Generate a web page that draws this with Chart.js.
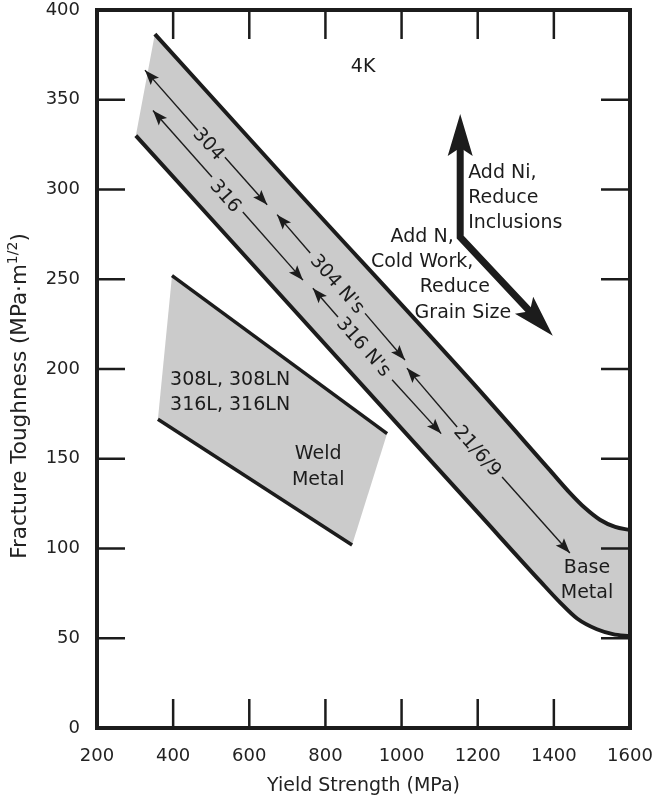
<!DOCTYPE html>
<html>
<head>
<meta charset="utf-8">
<script src="https://cdn.jsdelivr.net/npm/chart.js@4.4.1/dist/chart.umd.min.js"></script>
<style>
  html, body { margin: 0; padding: 0; background: #fff; }
</style>
</head>
<body>
<canvas id="chart" width="656" height="801"></canvas>
<script>
const FONT = '"DejaVu Sans", sans-serif';
const INK = '#1c1c1c';
const SHADE = '#cbcbcb';

const xTicks = [200, 400, 600, 800, 1000, 1200, 1400, 1600];
const yTicks = [0, 50, 100, 150, 200, 250, 300, 350, 400];

// base metal band (MPa, MPa·m^1/2)
const baseUpper = [[352, 386.6], [699, 305.3], [1180, 193.9], [1390, 143.5], [1442, 131], [1482, 122.5], [1521, 116], [1561, 112], [1600, 110.3]];
const baseLower = [[302, 330], [943, 180.2], [1206, 118.7], [1364, 81.8], [1416, 70], [1461, 61], [1513, 55], [1555, 52.3], [1600, 51]];

// weld metal band
const weldUpper = [[397, 252], [962, 164]];
const weldLower = [[360, 172], [870, 102]];

// thin double arrows: tip, gap start, gap end, tip
const arr304 = [[326, 366.5], [465, 333], [536, 318], [647, 291.5]];
const arr316 = [[347, 344], [502, 307], [583, 287.5], [741, 249.5]];
const arr304N = [[673, 286], [760, 264.6], [904, 231], [1009, 205]];
const arr316N = [[767, 245], [833, 229], [975, 194], [1104, 164]];
const arr2169 = [[1014, 200.5], [1146, 167.7], [1264, 139.8], [1442, 97.5]];
const thinArrows = [arr304, arr316, arr304N, arr316N, arr2169];

// bold bent arrow (shaft ends, heads go past them)
const bigArrow = [[1154, 328], [1154, 273.5], [1352, 228.7]];

// labels sitting on the arrows
const arrowLabels = ['304', '316', "304 N's", "316 N's", '21/6/9'];
const arrowLabelPos = [[492, 325], [536, 296], [830, 247], [899, 212], [1198, 154]];

// free text
const notesCenter = [
  ['4K', 899, 368],
  ['Add N,', 1054, 273.5],
  ['Cold Work,', 1054, 259.6],
  ['Reduce', 1140, 245.7],
  ['Grain Size', 1161, 231.2],
  ['Weld', 781, 152.6],
  ['Metal', 781, 138.1],
  ['Base', 1487, 89.1],
  ['Metal', 1487, 75.2]
];
const notesLeft = [
  ['Add Ni,', 1175, 309],
  ['Reduce', 1175, 295],
  ['Inclusions', 1175, 281.3],
  ['308L, 308LN', 392, 193.9],
  ['316L, 316LN', 392, 180]
];

const xy = pts => pts.map(p => ({ x: p[0], y: p[1] }));

function lineSet(pts, width, order, smooth) {
  return {
    data: xy(pts), showLine: true, fill: false,
    borderColor: INK, borderWidth: width, pointRadius: 0,
    borderCapStyle: 'butt', tension: smooth ? 0.4 : 0,
    cubicInterpolationMode: smooth ? 'monotone' : 'default', order: order
  };
}
function shapeSet(pts) {
  return {
    data: xy(pts), showLine: true, fill: 'shape',
    backgroundColor: SHADE, borderColor: 'rgba(0,0,0,0)', borderWidth: 1,
    pointRadius: 0, tension: 0, order: 5
  };
}

const datasets = [
  shapeSet(baseUpper.concat(baseLower.slice().reverse())),
  shapeSet(weldUpper.concat(weldLower.slice().reverse())),
  lineSet(baseUpper, 4, 2, true),
  lineSet(baseLower, 4, 2, true),
  lineSet(weldUpper, 3.5, 2),
  lineSet(weldLower, 3.5, 2),
  lineSet(bigArrow, 7, 1)
];
thinArrows.forEach(a => {
  datasets.push(lineSet(a.slice(0, 2), 1.4, 1));
  datasets.push(lineSet(a.slice(2, 4), 1.4, 1));
});

function head(ctx, from, to, len, half, ahead) {
  const dx = to[0] - from[0], dy = to[1] - from[1], d = Math.hypot(dx, dy);
  const ux = dx / d, uy = dy / d;
  const tx = to[0] + ux * len * ahead, ty = to[1] + uy * len * ahead;
  const bx = tx - ux * len, by = ty - uy * len;
  const nx = tx - ux * len * 0.8, ny = ty - uy * len * 0.8;
  ctx.beginPath();
  ctx.moveTo(tx, ty);
  ctx.lineTo(bx - uy * half, by + ux * half);
  ctx.lineTo(nx, ny);
  ctx.lineTo(bx + uy * half, by - ux * half);
  ctx.closePath();
  ctx.fill();
}

const overlay = {
  id: 'overlay',
  afterDatasetsDraw(chart) {
    const ctx = chart.ctx, xs = chart.scales.x, ys = chart.scales.y, a = chart.chartArea;
    const px = p => [xs.getPixelForValue(p[0]), ys.getPixelForValue(p[1])];
    ctx.save();
    ctx.fillStyle = INK;

    thinArrows.forEach(arr => {
      head(ctx, px(arr[1]), px(arr[0]), 15, 5.5, 0);
      head(ctx, px(arr[2]), px(arr[3]), 15, 5.5, 0);
    });
    head(ctx, px(bigArrow[1]), px(bigArrow[0]), 42, 12.5, 0.6);
    head(ctx, px(bigArrow[1]), px(bigArrow[2]), 42, 12.5, 0.6);

    // labels along the arrows
    ctx.font = '19px ' + FONT;
    ctx.textAlign = 'center';
    ctx.textBaseline = 'middle';
    arrowLabels.forEach((t, i) => {
      const arr = thinArrows[i];
      const p0 = px(arr[0]), p3 = px(arr[3]);
      const c = px(arrowLabelPos[i]);
      ctx.save();
      ctx.translate(c[0], c[1]);
      ctx.rotate(Math.atan2(p3[1] - p0[1], p3[0] - p0[0]));
      ctx.fillText(t, 0, 0);
      ctx.restore();
    });

    notesCenter.forEach(n => { const c = px([n[1], n[2]]); ctx.fillText(n[0], c[0], c[1]); });
    ctx.textAlign = 'left';
    notesLeft.forEach(n => { const c = px([n[1], n[2]]); ctx.fillText(n[0], c[0], c[1]); });

    // frame with inward ticks
    ctx.strokeStyle = INK;
    ctx.lineWidth = 4;
    ctx.strokeRect(a.left, a.top, a.right - a.left, a.bottom - a.top);
    ctx.lineWidth = 2.5;
    ctx.beginPath();
    xTicks.slice(1, -1).forEach(v => {
      const x = xs.getPixelForValue(v);
      ctx.moveTo(x, a.bottom); ctx.lineTo(x, a.bottom - 29);
      ctx.moveTo(x, a.top); ctx.lineTo(x, a.top + 29);
    });
    yTicks.slice(1, -1).forEach(v => {
      const y = ys.getPixelForValue(v);
      ctx.moveTo(a.left, y); ctx.lineTo(a.left + 28, y);
      ctx.moveTo(a.right, y); ctx.lineTo(a.right - 29, y);
    });
    ctx.stroke();

    // axis titles
    ctx.fillStyle = '#222';
    ctx.textAlign = 'center';
    ctx.font = '19px ' + FONT;
    ctx.fillText('Yield Strength (MPa)', (a.left + a.right) / 2, 786);

    ctx.save();
    ctx.translate(20, 396);
    ctx.rotate(-Math.PI / 2);
    const main = 'Fracture Toughness (MPa·m', sup = '1/2', tail = ')';
    ctx.font = '21.5px ' + FONT;
    const w1 = ctx.measureText(main).width, w3 = ctx.measureText(tail).width;
    ctx.font = '14px ' + FONT;
    const w2 = ctx.measureText(sup).width;
    const x0 = -(w1 + w2 + w3) / 2;
    ctx.textAlign = 'left';
    ctx.font = '21.5px ' + FONT;
    ctx.fillText(main, x0, 0);
    ctx.font = '14px ' + FONT;
    ctx.fillText(sup, x0 + w1, -7);
    ctx.font = '21.5px ' + FONT;
    ctx.fillText(tail, x0 + w1 + w2, 0);
    ctx.restore();

    ctx.restore();
  }
};

new Chart(document.getElementById('chart'), {
  type: 'scatter',
  data: { datasets: datasets },
  options: {
    responsive: false,
    animation: false,
    devicePixelRatio: 1,
    layout: { padding: { top: 10, right: 26, left: 0, bottom: 0 } },
    plugins: { legend: { display: false }, tooltip: { enabled: false } },
    scales: {
      x: {
        type: 'linear', min: 200, max: 1600,
        afterBuildTicks: s => { s.ticks = xTicks.map(v => ({ value: v })); },
        afterFit: s => { s.height = 73; s.paddingLeft = 0; s.paddingRight = 0; },
        grid: { display: false, drawTicks: false },
        border: { display: false },
        ticks: { font: { family: FONT, size: 18 }, color: '#222', padding: 18, maxRotation: 0, autoSkip: false, callback: v => String(v) }
      },
      y: {
        type: 'linear', min: 0, max: 400,
        afterBuildTicks: s => { s.ticks = yTicks.map(v => ({ value: v })); },
        afterFit: s => { s.width = 97; s.paddingTop = 0; s.paddingBottom = 0; },
        grid: { display: false, drawTicks: false },
        border: { display: false },
        ticks: { font: { family: FONT, size: 18 }, color: '#222', padding: 17, autoSkip: false, callback: v => String(v) }
      }
    }
  },
  plugins: [overlay]
});
</script>
</body>
</html>
